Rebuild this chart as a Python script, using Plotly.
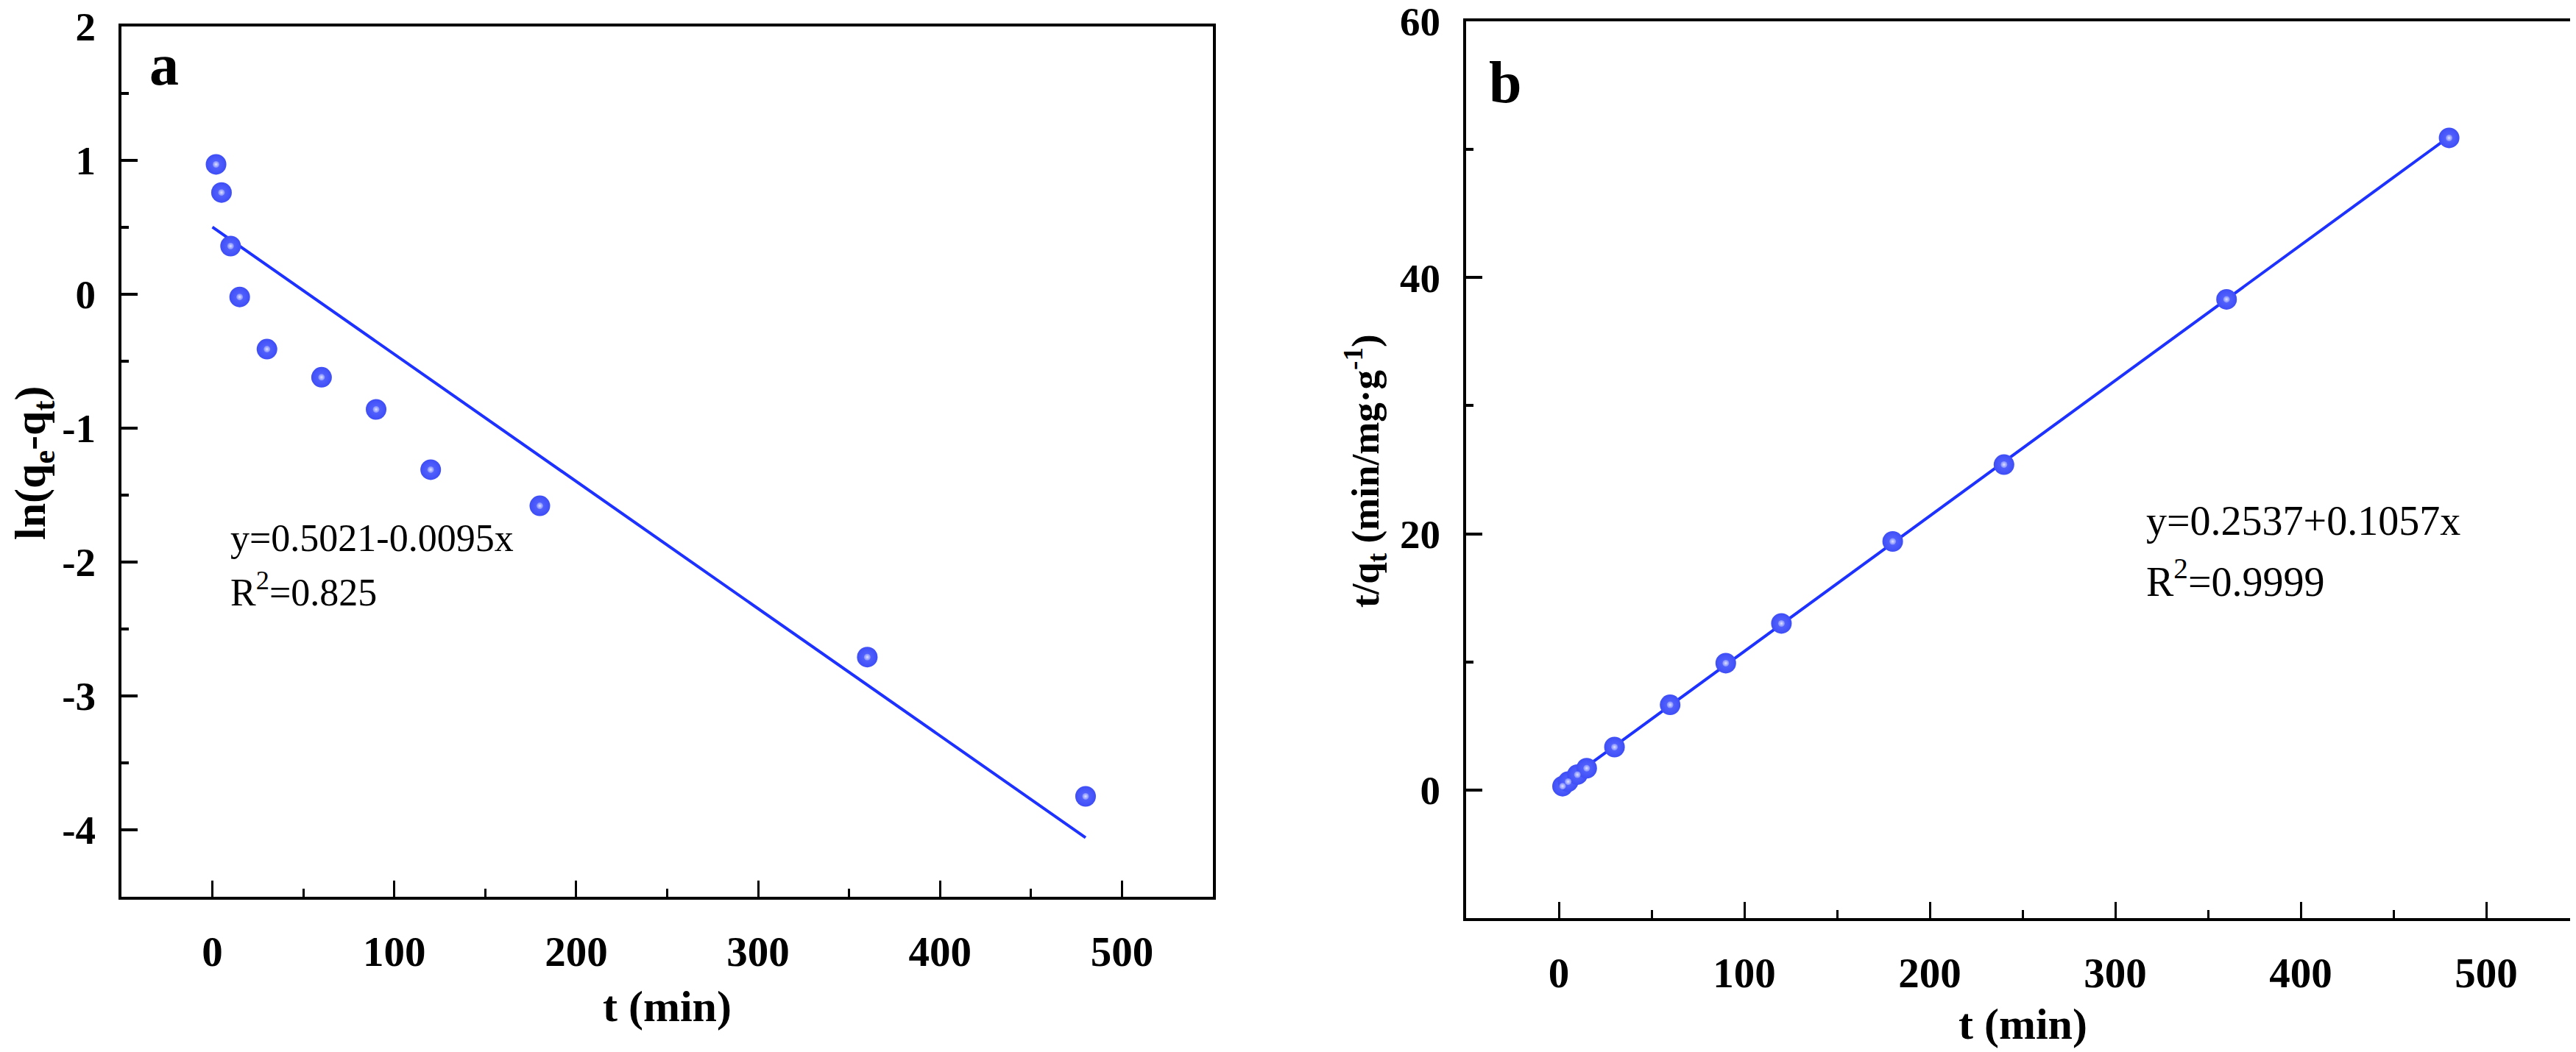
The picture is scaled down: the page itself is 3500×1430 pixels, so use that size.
import plotly.graph_objects as go

# ---------------- data ----------------
# panel a: pseudo-first-order
t_a = [2, 5, 10, 15, 30, 60, 90, 120, 180, 360, 480]
ln_a = [0.97, 0.76, 0.36, -0.02, -0.41, -0.62, -0.86, -1.31, -1.58, -2.71, -3.75]
fit_a_intercept = 0.5021
fit_a_slope = -0.0095
fit_a_t = [0, 480]

# panel b: pseudo-second-order
t_b = [2, 5, 10, 15, 30, 60, 90, 120, 180, 240, 360, 480]
tq_b = [0.30, 0.65, 1.20, 1.70, 3.35, 6.65, 9.90, 13.0, 19.4, 25.4, 38.3, 50.9]
fit_b_intercept = 0.2537
fit_b_slope = 0.1057
fit_b_t = [0, 480]

x_ticks = [0, 100, 200, 300, 400, 500]
x_ticktext = ["0", "100", "200", "300", "400", "500"]
ya_ticks = [-4, -3, -2, -1, 0, 1, 2]
ya_ticktext = ["-4", "-3", "-2", "-1", "0", "1", "2"]
yb_ticks = [0, 20, 40, 60]
yb_ticktext = ["0", "20", "40", "60"]

eq_a = ["y=0.5021-0.0095x", "R<sup>2</sup>=0.825"]
eq_b = ["y=0.2537+0.1057x", "R<sup>2</sup>=0.9999"]

# ---------------- style ----------------
W, H = 3500, 1430
SERIF = "Liberation Serif, Times New Roman, serif"
MARKER_BLUE = "rgb(62,78,246)"
LINE_BLUE = "rgb(30,50,255)"


def px_x(p):
    return p / W


def px_y(p):
    return 1 - p / H


fig = go.Figure()

# fit lines
fig.add_trace(go.Scatter(
    x=fit_a_t, y=[fit_a_intercept + fit_a_slope * t for t in fit_a_t],
    mode="lines", line=dict(color=LINE_BLUE, width=4),
    xaxis="x", yaxis="y", showlegend=False))
fig.add_trace(go.Scatter(
    x=fit_b_t, y=[fit_b_intercept + fit_b_slope * t for t in fit_b_t],
    mode="lines", line=dict(color=LINE_BLUE, width=4),
    xaxis="x2", yaxis="y2", showlegend=False))

# markers (ball + highlight)
for xs, ys, xa, ya in [(t_a, ln_a, "x", "y"), (t_b, tq_b, "x2", "y2")]:
    fig.add_trace(go.Scatter(
        x=xs, y=ys, mode="markers",
        marker=dict(size=28, color=MARKER_BLUE, line=dict(width=0),
                    gradient=dict(type="radial", color="rgb(90,105,255)")),
        xaxis=xa, yaxis=ya, showlegend=False))
    fig.add_trace(go.Scatter(
        x=xs, y=ys, mode="markers",
        marker=dict(size=9, color="rgba(130,142,255,0.9)", line=dict(width=0),
                    gradient=dict(type="radial", color="rgb(225,228,255)")),
        xaxis=xa, yaxis=ya, showlegend=False))

tickfont = dict(family=SERIF, size=57, color="black", weight=700)


def xaxis_cfg(domain):
    return dict(
        domain=domain, range=[-50, 550], tickvals=x_ticks, ticktext=x_ticktext,
        ticks="inside", ticklen=22, tickwidth=3, tickcolor="black",
        minor=dict(ticks="inside", ticklen=11, tickwidth=3, dtick=50, tick0=0,
                   tickcolor="black", showgrid=False),
        showline=True, linewidth=4, linecolor="black", mirror=True,
        showgrid=False, zeroline=False, tickfont=tickfont, automargin=False,
        ticklabelstandoff=22, ticklabeloverflow="allow")


def yaxis_cfg(domain, rng, ticks, ticktext, minor_dtick, anchor):
    return dict(
        domain=domain, range=rng, tickvals=ticks, ticktext=ticktext, anchor=anchor,
        ticks="inside", ticklen=22, tickwidth=4, tickcolor="black",
        minor=dict(ticks="inside", ticklen=10, tickwidth=4, dtick=minor_dtick,
                   tick0=0, tickcolor="black", showgrid=False),
        showline=True, linewidth=4, linecolor="black", mirror=True,
        showgrid=False, zeroline=False, automargin=False,
        tickfont=dict(family=SERIF, size=55, color="black", weight=700),
        ticklabelstandoff=20, ticklabeloverflow="allow")


xa_dom = [px_x(157), px_x(1640)]
xb_dom = [px_x(1984), px_x(3496)]
ya_dom = [px_y(1211), px_y(28)]
yb_dom = [px_y(1240), px_y(21)]

fig.update_layout(
    width=W, height=H,
    margin=dict(l=0, r=0, t=0, b=0),
    paper_bgcolor="white", plot_bgcolor="white",
    xaxis=dict(**xaxis_cfg(xa_dom), anchor="y"),
    yaxis=yaxis_cfg(ya_dom, [-4.5, 2], ya_ticks, ya_ticktext, 0.5, "x"),
    xaxis2=dict(**xaxis_cfg(xb_dom), anchor="y2"),
    yaxis2=yaxis_cfg(yb_dom, [-10, 60], yb_ticks, yb_ticktext, 10, "x2"),
)

title_font = dict(family=SERIF, size=60, color="black", weight=700)
ann = []
# x titles
ann.append(dict(text="t (min)", x=px_x(898), y=px_y(1360), xref="paper", yref="paper",
                showarrow=False, xanchor="center", yanchor="middle", font=title_font))
ann.append(dict(text="t (min)", x=px_x(2740), y=px_y(1384), xref="paper", yref="paper",
                showarrow=False, xanchor="center", yanchor="middle", font=title_font))
# y titles
ann.append(dict(text="ln(q<sub>e</sub>-q<sub>t</sub>)", x=px_x(38), y=px_y(622),
                xref="paper", yref="paper", showarrow=False, textangle=-90,
                xanchor="center", yanchor="middle", font=title_font))
ann.append(dict(text="t/q<sub>t</sub> (min/mg·g<sup>-1</sup>)", x=px_x(1847), y=px_y(632),
                xref="paper", yref="paper", showarrow=False, textangle=-90,
                xanchor="center", yanchor="middle",
                font=dict(family=SERIF, size=53, color="black", weight=700)))
# panel letters
ann.append(dict(text="a", x=px_x(193), y=px_y(80), xref="paper", yref="paper",
                showarrow=False, xanchor="left", yanchor="middle",
                font=dict(family=SERIF, size=80, color="black", weight=700)))
ann.append(dict(text="b", x=px_x(2013), y=px_y(104), xref="paper", yref="paper",
                showarrow=False, xanchor="left", yanchor="middle",
                font=dict(family=SERIF, size=80, color="black", weight=700)))
# equations
eq_font_a = dict(family=SERIF, size=52, color="black")
eq_font_b = dict(family=SERIF, size=56, color="black")
ann.append(dict(text=eq_a[0], x=px_x(303), y=px_y(723), xref="paper", yref="paper",
                showarrow=False, xanchor="left", yanchor="middle", font=eq_font_a))
ann.append(dict(text=eq_a[1], x=px_x(303), y=px_y(793), xref="paper", yref="paper",
                showarrow=False, xanchor="left", yanchor="middle", font=eq_font_a))
ann.append(dict(text=eq_b[0], x=px_x(2906), y=px_y(700), xref="paper", yref="paper",
                showarrow=False, xanchor="left", yanchor="middle", font=eq_font_b))
ann.append(dict(text=eq_b[1], x=px_x(2906), y=px_y(778), xref="paper", yref="paper",
                showarrow=False, xanchor="left", yanchor="middle", font=eq_font_b))
fig.update_layout(annotations=ann)

fig.write_html("out.html")
